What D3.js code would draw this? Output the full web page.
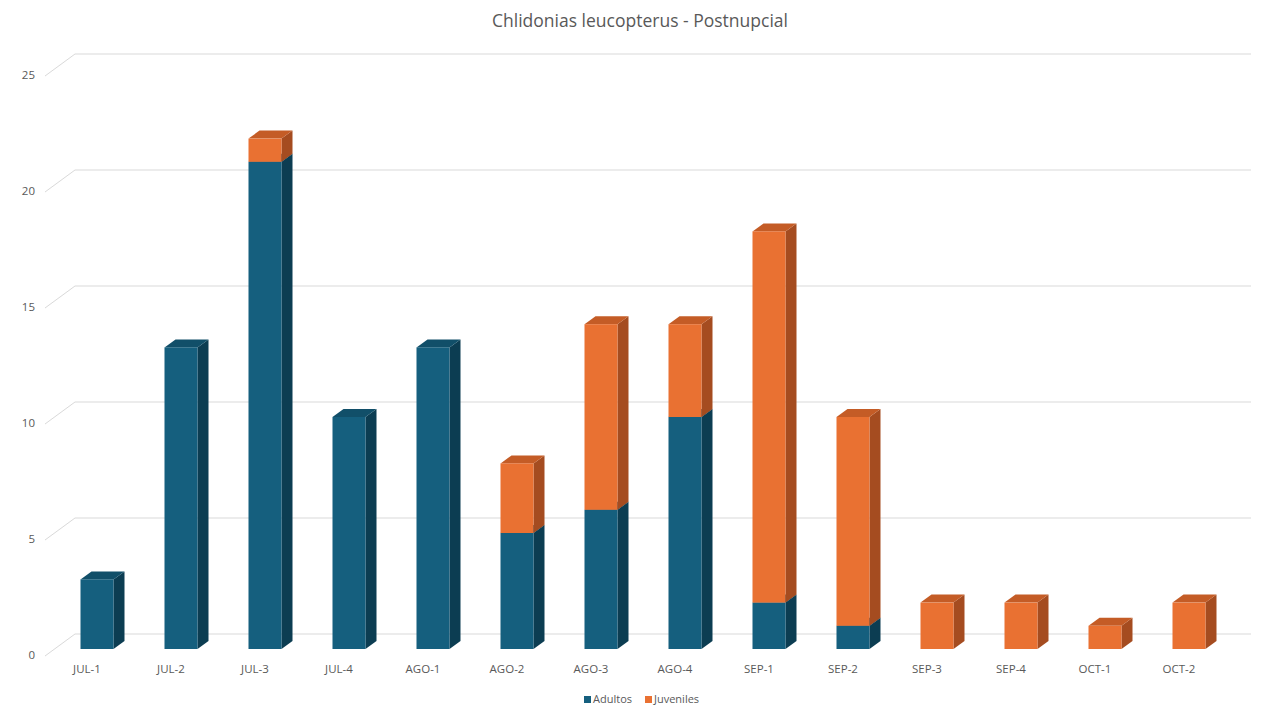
<!DOCTYPE html>
<html><head><meta charset="utf-8">
<script src="https://cdn.jsdelivr.net/npm/d3@7"></script>
<style>body{margin:0;background:#fff;}svg{display:block;font-family:"Open Sans",Roboto,sans-serif;}</style>
</head><body>
<svg id="c" width="1280" height="720"></svg>
<script>
const title = "Chlidonias leucopterus - Postnupcial";
const categories = ["JUL-1","JUL-2","JUL-3","JUL-4","AGO-1","AGO-2","AGO-3","AGO-4","SEP-1","SEP-2","SEP-3","SEP-4","OCT-1","OCT-2"];
const adultos   = [3,13,21,10,13,5,6,10,2,1,0,0,0,0];
const juveniles = [0,0,1,0,0,3,8,4,16,9,2,2,1,2];
const seriesNames = ["Adultos","Juveniles"];
const yTicks = [0,5,10,15,20,25];

const colors = {
  Adultos:  {front:"#155f7e", side:"#0c3d52", top:"#114f69"},
  Juveniles:{front:"#e97132", side:"#a54c20", top:"#c45c26"}
};

const svg = d3.select("#c");
const x = d3.scaleBand().domain(categories).range([75,1251]).paddingInner(0).paddingOuter(0);
const y = d3.scaleLinear().domain([0,25]).range([634,54]);
const floorDx = 30, floorDy = 22;
const barShiftX = -20, barShiftY = 15;
const depthX = 11, depthY = 8;
const barW = 33;

const grid = svg.append("g");
yTicks.forEach(t => {
  grid.append("line").attr("x1",x.range()[0]).attr("x2",x.range()[1])
    .attr("y1",y(t)).attr("y2",y(t)).attr("stroke","#d9d9d9").attr("stroke-width",1);
  grid.append("line").attr("x1",x.range()[0]-floorDx).attr("y1",y(t)+floorDy)
    .attr("x2",x.range()[0]).attr("y2",y(t)).attr("stroke","#d9d9d9").attr("stroke-width",1);
  grid.append("text").attr("x",35).attr("y",y(t)+floorDy).attr("text-anchor","end")
    .attr("dominant-baseline","middle").attr("font-size",11.5).attr("fill","#595959").text(t);
});

svg.append("g").selectAll("text").data(categories).join("text")
  .attr("x",d=>x(d)-floorDx+x.bandwidth()/2).attr("y",670)
  .attr("text-anchor","middle").attr("dominant-baseline","middle")
  .attr("font-size",11.5).attr("fill","#595959").text(d=>d);

const rows = categories.map((c,i)=>({cat:c, Adultos:adultos[i], Juveniles:juveniles[i]}));
const stack = d3.stack().keys(seriesNames)(rows);

const segs = [];
stack.forEach(layer => {
  layer.forEach((d,i) => {
    if (d[1]-d[0] > 0) segs.push({key:layer.key, cat:categories[i], y0:d[0], y1:d[1], i});
  });
});
const bars = svg.append("g");
segs.forEach(s => {
  const fx = x(s.cat) + (x.bandwidth()-barW)/2 + barShiftX;
  const fyTop = y(s.y1) + barShiftY;
  const fyBot = y(s.y0) + barShiftY;
  const col = colors[s.key];
  bars.append("path").attr("fill",col.side)
    .attr("d",`M${fx+barW},${fyBot} L${fx+barW+depthX},${fyBot-depthY} L${fx+barW+depthX},${fyTop-depthY} L${fx+barW},${fyTop} Z`);
  bars.append("path").attr("fill",col.top)
    .attr("d",`M${fx},${fyTop} L${fx+depthX},${fyTop-depthY} L${fx+barW+depthX},${fyTop-depthY} L${fx+barW},${fyTop} Z`);
  bars.append("rect").attr("x",fx).attr("y",fyTop).attr("width",barW).attr("height",fyBot-fyTop).attr("fill",col.front);
});

svg.append("text").attr("x",640).attr("y",22).attr("text-anchor","middle")
  .attr("dominant-baseline","middle").attr("font-size",17.5).attr("fill","#595959").text(title);

const lg = svg.append("g");
const legItems = [{n:"Adultos",x:584},{n:"Juveniles",x:645}];
legItems.forEach(l=>{
  lg.append("rect").attr("x",l.x).attr("y",696).attr("width",7).attr("height",7).attr("fill",colors[l.n].front);
  lg.append("text").attr("x",l.x+9).attr("y",700).attr("dominant-baseline","middle")
    .attr("font-size",11).attr("fill","#595959").text(l.n);
});
</script>
</body></html>
